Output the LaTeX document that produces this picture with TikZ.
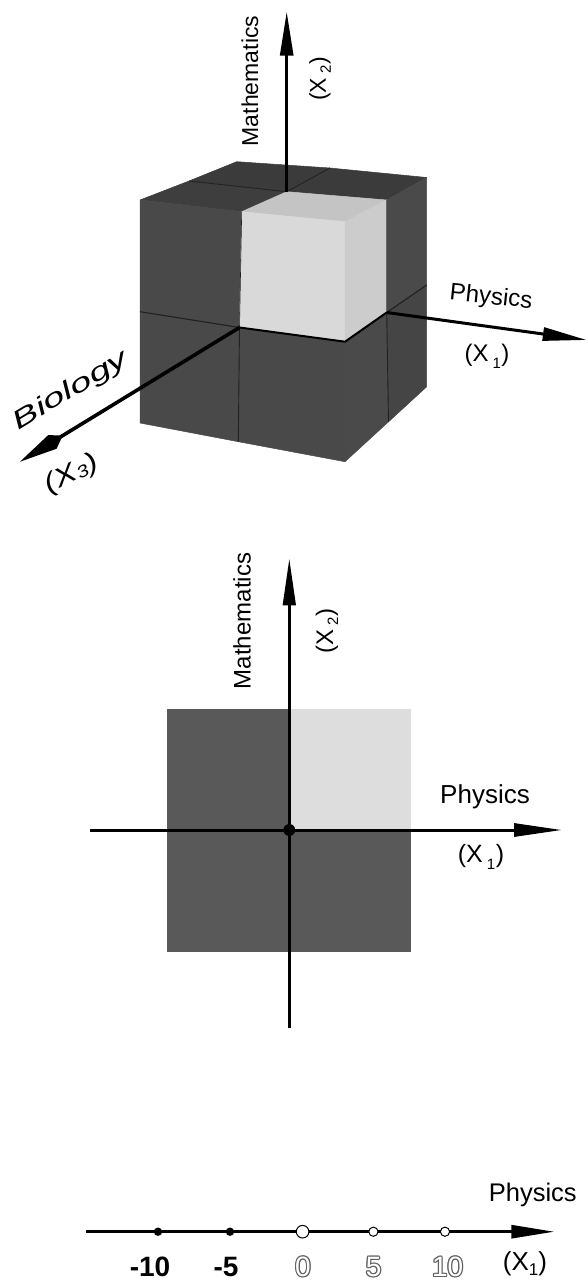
\documentclass[tikz,border=0pt]{standalone}
\usepackage{fontspec}
\setmainfont{Liberation Sans}
\newfontfamily\biofont{Liberation Sans}[FakeStretch=1.55]
\newfontfamily\xthreefont{Liberation Sans}[FakeStretch=1.25]
\usepackage{graphicx}
\usetikzlibrary{arrows.meta}
\definecolor{cubefront}{gray}{0.285}
\definecolor{cubetop}{gray}{0.245}
\definecolor{cubetopback}{gray}{0.23}
\definecolor{cubeside}{gray}{0.29}
\definecolor{cubesideback}{gray}{0.27}
\definecolor{lightfront}{gray}{0.85}
\definecolor{lighttop}{gray}{0.77}
\definecolor{lightside}{gray}{0.80}
\definecolor{seam}{gray}{0.13}
\definecolor{sqdark}{gray}{0.35}
\definecolor{sqlight}{gray}{0.865}
\definecolor{hollowgray}{gray}{0.38}
\newcommand\hollowtxt[1]{\leavevmode\rlap{\color{hollowgray}%
\rlap{\kern1.2pt#1}\rlap{\kern-1.2pt#1}\rlap{\raisebox{1.2pt}{#1}}\rlap{\raisebox{-1.2pt}{#1}}%
\rlap{\kern0.85pt\raisebox{0.85pt}{#1}}\rlap{\kern-0.85pt\raisebox{0.85pt}{#1}}%
\rlap{\kern0.85pt\raisebox{-0.85pt}{#1}}\rlap{\kern-0.85pt\raisebox{-0.85pt}{#1}}}%
{\color{white}#1}}
\newcommand\spsub[2]{(X\hspace{4pt}\raisebox{#2}{\fontsize{15}{15}\selectfont #1}\hspace{0.5pt})}
\begin{document}
\begin{tikzpicture}[x=1pt,y=-1pt,
  lab/.style={font=\fontsize{23}{26}\selectfont, inner sep=0pt},
  numlab/.style={font=\fontsize{28}{30}\selectfont, inner sep=0pt},
  face/.style={line width=0.5pt, line join=round},
  axisarrow/.style={line width=2.9pt, -{Triangle[length=44pt,width=13pt]}},
  seamline/.style={draw=seam, line width=1.1pt},
  shadowline/.style={draw=black, line width=2pt},
  opendot/.style={fill=white, draw=black, line width=1pt},
]
\fill[white] (0,0) rectangle (587,1282);
\useasboundingbox (0,0) rectangle (587,1282);

% ---------- 3D cube ----------
\coordinate (LTF) at (140,200);
\coordinate (MTF) at (241.7,211.7);
\coordinate (RTF) at (345,221.7);
\coordinate (LTD) at (189,181);
\coordinate (MTD) at (286.7,191.7);
\coordinate (RTD) at (386.7,200);
\coordinate (LTK) at (236.7,161.7);
\coordinate (MTK) at (330,168);
\coordinate (RTK) at (426.7,177.5);
\coordinate (LCF) at (140,311.7);
\coordinate (MCF) at (239.5,327.5);
\coordinate (RCF) at (345,341.7);
\coordinate (LBF) at (140,423);
\coordinate (MBF) at (238.3,441.7);
\coordinate (RBF) at (345,461.7);
\coordinate (RCD) at (386.7,312.5);
\coordinate (RCK) at (426.7,285);
\coordinate (RBD) at (388.5,421.8);
\coordinate (RBK) at (426.7,386.7);

% top faces
\filldraw[face, fill=cubetop, draw=cubetop] (LTF)--(MTF)--(MTD)--(LTD)--cycle;
\filldraw[face, fill=cubetopback, draw=cubetopback] (LTD)--(MTD)--(MTK)--(LTK)--cycle;
\filldraw[face, fill=cubetopback, draw=cubetopback] (MTD)--(RTD)--(RTK)--(MTK)--cycle;
\filldraw[face, fill=lighttop, draw=lighttop] (MTF)--(RTF)--(RTD)--(MTD)--cycle;
% front faces
\filldraw[face, fill=cubefront, draw=cubefront] (LTF)--(MTF)--(MCF)--(LCF)--cycle;
\filldraw[face, fill=lightfront, draw=lightfront] (MTF)--(RTF)--(RCF)--(MCF)--cycle;
\filldraw[face, fill=cubefront, draw=cubefront] (LCF)--(MCF)--(MBF)--(LBF)--cycle;
\filldraw[face, fill=cubefront, draw=cubefront] (MCF)--(RCF)--(RBF)--(MBF)--cycle;
% right faces
\filldraw[face, fill=lightside, draw=lightside] (RTF)--(RTD)--(RCD)--(RCF)--cycle;
\filldraw[face, fill=cubeside, draw=cubeside] (RTD)--(RTK)--(RCK)--(RCD)--cycle;
\filldraw[face, fill=cubeside, draw=cubeside] (RCF)--(RCD)--(RBD)--(RBF)--cycle;
\filldraw[face, fill=cubesideback, draw=cubesideback] (RCD)--(RCK)--(RBK)--(RBD)--cycle;
% seams
\draw[seamline] (LCF) -- (MCF);
\draw[seamline] (RCD) -- (RCK);
\draw[seamline, line width=0.9pt] (MCF) -- (MBF);
\draw[seamline, line width=0.9pt] (RCD) -- (RBD);
\draw[seamline, line width=0.8pt] (LTD) -- (MTD);
\draw[seamline, line width=0.8pt] (MTD) -- (MTK);
\draw[seamline, line width=0.6pt] (MTF) -- (MCF);
\draw[shadowline] (MCF) -- (RCF) -- (RCD);

% axes
\coordinate (mtip) at (286.7,11.7);
\draw[axisarrow, line width=2.8pt] (MTD) -- (mtip);
\coordinate (ptip) at (586.7,340);
\draw[axisarrow, line width=3pt] (RCD) -- (ptip);
\coordinate (btip) at (20,461.7);
\draw[line width=3.6pt, -{Kite[length=50pt,width=16pt,inset=12pt]}] (MCF) -- (btip);

% labels
\node[lab, rotate=90] (mathA) at (250,81) {Mathematics};
\node[lab, rotate=90] (x2A) at (320,79) {\spsub{2}{-5pt}};
\node[lab, font=\fontsize{24}{26}\selectfont, rotate=-6] (physA) at (491,298) {Physics};
\node[lab, font=\fontsize{24}{26}\selectfont] (x1A) at (487,356) {\spsub{1}{-7pt}};
\node[lab, font=\fontsize{25.5}{28}\selectfont\biofont\itshape, rotate=31] (bio) at (71,391) {Biology};
\node[lab, font=\fontsize{26.5}{28}\selectfont\xthreefont\itshape, rotate=27] (x3) at (72,474) {(X\raisebox{-2pt}{\fontsize{17}{17}\selectfont 3}\hspace{1pt})};

% ---------- 2D square ----------
\fill[sqdark] (167.3,709) rectangle (410.7,952);
\fill[sqlight] (289.3,709) rectangle (410.7,830);
\coordinate (O2) at (289.3,830);
\coordinate (vbot) at (289.3,1028);
\coordinate (vtip) at (289.3,558.3);
\coordinate (hleft) at (90,830);
\coordinate (htip) at (562,830);
\draw[line width=3pt, -{Triangle[length=47pt,width=12.5pt]}] (vbot) -- (vtip);
\draw[line width=3pt, -{Triangle[length=48pt,width=13pt]}] (hleft) -- (htip);
\fill (O2) circle (6);
\node[lab, font=\fontsize{24}{26}\selectfont, rotate=90] (mathB) at (242,621) {Mathematics};
\node[lab, font=\fontsize{24}{26}\selectfont, rotate=90] (x2B) at (327,631) {\spsub{2}{-5pt}};
\node[lab, font=\fontsize{26}{28}\selectfont] (physB) at (485,797) {Physics};
\node[lab, font=\fontsize{25}{28}\selectfont] (x1B) at (481,857) {\spsub{1}{-7pt}};

% ---------- number line ----------
\coordinate (nl) at (86,1231.7);
\coordinate (ntip) at (554.3,1231.7);
\draw[line width=2.8pt, -{Triangle[length=43pt,width=13pt]}] (nl) -- (ntip);
\fill (158,1231.7) circle (4.2);
\fill (230,1231.7) circle (4.2);
\draw[opendot] (302.6,1231.7) circle (6.3);
\draw[opendot] (373.4,1231.7) circle (4.6);
\draw[opendot] (445,1231.7) circle (4.6);
\node[numlab, font=\fontsize{28}{30}\selectfont\bfseries] (nm10) at (150,1266.7) {-10};
\node[numlab, font=\fontsize{28}{30}\selectfont\bfseries] (nm5) at (226,1266.7) {-5};
\node[numlab] (n0) at (303,1266.7) {\hollowtxt{0}};
\node[numlab] (n5) at (373.6,1266.7) {\hollowtxt{5}};
\node[numlab] (n10) at (447.6,1266.7) {\hollowtxt{10}};
\node[lab, font=\fontsize{26}{28}\selectfont] (x1C) at (525,1264) {(X\raisebox{-5pt}{\fontsize{17}{17}\selectfont 1})};
\node[lab, font=\fontsize{25.5}{28}\selectfont] (physC) at (532.8,1195) {Physics};
\end{tikzpicture}
\end{document}
